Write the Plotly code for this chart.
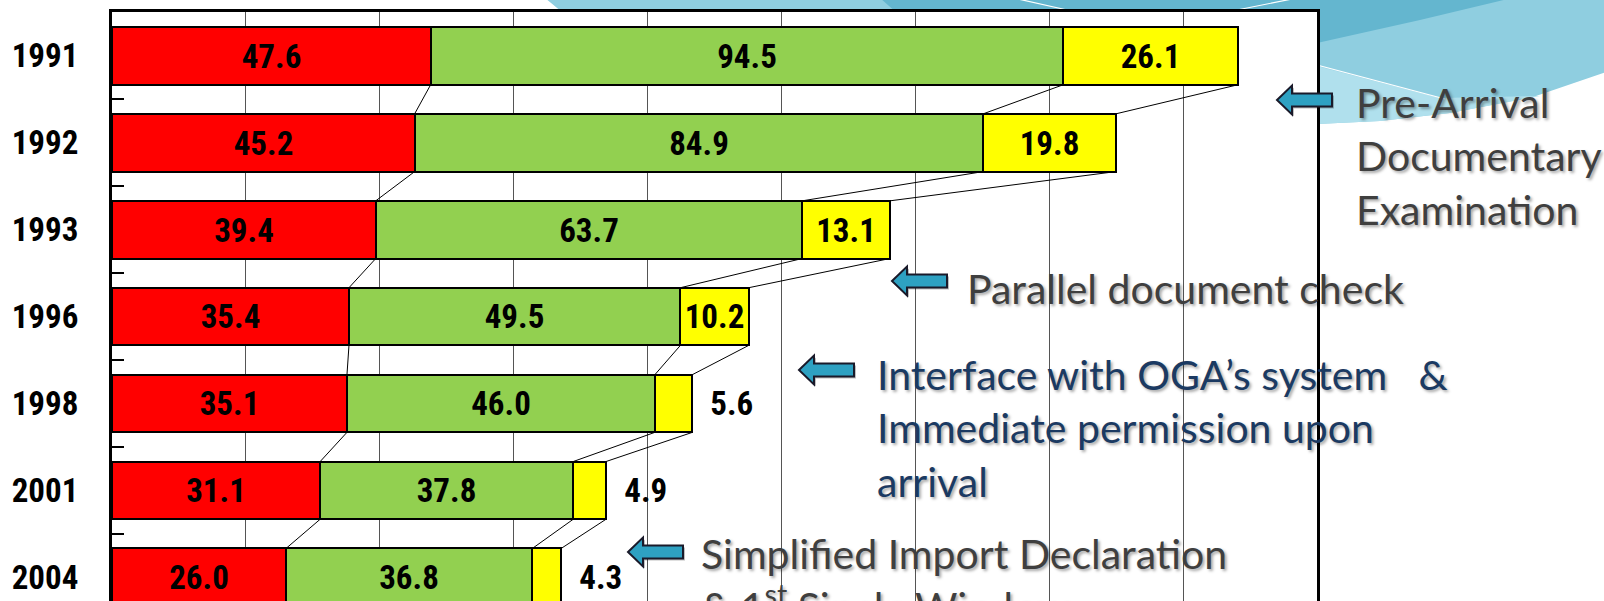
import plotly.graph_objects as go

# ---------------- data ----------------
years = ["1991", "1992", "1993", "1996", "1998", "2001", "2004"]
red_vals = [47.6, 45.2, 39.4, 35.4, 35.1, 31.1, 26.0]
green_vals = [94.5, 84.9, 63.7, 49.5, 46.0, 37.8, 36.8]
yellow_vals = [26.1, 19.8, 13.1, 10.2, 5.6, 4.9, 4.3]
yellow_pos = ["inside", "inside", "inside", "inside", "outside", "outside", "outside"]
x_ticks = [0, 20, 40, 60, 80, 100, 120, 140, 160, 180]

NARROW = "Liberation Sans Narrow, Arial Narrow, Roboto Condensed, DejaVu Sans Condensed, sans-serif"
CAL = "Lato, Carlito, Calibri, Open Sans, sans-serif"
BAR_W = 0.664

ypos = list(range(len(years)))

# figure geometry (pixels) used for decorative paper-referenced shapes
W, H = 1604, 601
ML, MR, MT, MB = 112, 287, 12, 0
PW, PH = W - ML - MR, H - MT - MB


def X(px):
    return (px - ML) / PW


def Y(py):
    return (H - MB - py) / PH


def poly(pts):
    s = "M " + " L ".join(f"{X(a):.5f},{Y(b):.5f}" for a, b in pts) + " Z"
    return s


fig = go.Figure()

# connector lines between consecutive bars (cumulative segment ends)
cum = []
run = [0.0] * len(years)
for series in (red_vals, green_vals, yellow_vals):
    run = [r + v for r, v in zip(run, series)]
    cum.append(run)
lx, ly = [], []
for c in cum:
    for i in range(len(years) - 1):
        lx += [c[i], c[i + 1], None]
        ly += [ypos[i] + BAR_W / 2, ypos[i + 1] - BAR_W / 2, None]
fig.add_trace(go.Scatter(x=lx, y=ly, mode="lines", line=dict(color="black", width=1),
                         hoverinfo="skip", showlegend=False))

LFS = 33
label_font = dict(family=NARROW, size=LFS, color="black", weight="bold")


def fmt(v):
    return f"{v:.1f}"


fig.add_trace(go.Bar(y=ypos, x=red_vals, orientation="h", width=BAR_W,
                     marker=dict(color="#FF0000", line=dict(color="black", width=2)),
                     text=[fmt(v) for v in red_vals], textposition="inside",
                     insidetextanchor="middle", textfont=label_font,
                     constraintext="none", showlegend=False, hoverinfo="skip"))
fig.add_trace(go.Bar(y=ypos, x=green_vals, orientation="h", width=BAR_W,
                     marker=dict(color="#92D050", line=dict(color="black", width=2)),
                     text=[fmt(v) for v in green_vals], textposition="inside",
                     insidetextanchor="middle", textfont=label_font,
                     constraintext="none", showlegend=False, hoverinfo="skip"))
fig.add_trace(go.Bar(y=ypos, x=yellow_vals, orientation="h", width=BAR_W,
                     marker=dict(color="#FFFF00", line=dict(color="black", width=2)),
                     text=[("\u00a0\u00a0" + fmt(v)) if p == "outside" else fmt(v)
                           for v, p in zip(yellow_vals, yellow_pos)],
                     textposition=yellow_pos, insidetextanchor="middle",
                     textfont=label_font, outsidetextfont=label_font,
                     constraintext="none", cliponaxis=False,
                     showlegend=False, hoverinfo="skip"))

# ---------------- decorative background wave (top right) ----------------
dark = "#64B6CF"
light = "#8FCEE0"
pale = "#B0E0ED"
shapes = []
# light band (above plot + right of plot)
shapes.append(dict(type="path", xref="paper", yref="paper", layer="below",
                   path=poly([(545, -2), (1606, -2), (1606, 72), (1533, 97), (1450, 113),
                              (1380, 121), (1317, 124), (1317, 60), (620, 60)]),
                   fillcolor=light, line=dict(width=0)))
# pale strip under white line
shapes.append(dict(type="path", xref="paper", yref="paper", layer="below",
                   path=poly([(1317, 66), (1440, 98), (1540, 96), (1450, 113),
                              (1380, 121), (1317, 124)]),
                   fillcolor=pale, line=dict(width=0)))
# dark band
shapes.append(dict(type="path", xref="paper", yref="paper", layer="below",
                   path=poly([(880, -2), (1512, -2), (1420, 20), (1317, 43), (1317, 60), (950, 60)]),
                   fillcolor=dark, line=dict(width=0)))
# white highlight lines
for a, b in (((1018, -1), (1085, 14)), ((1237, 10), (1292, -1)), ((1317, 65), (1445, 99))):
    shapes.append(dict(type="line", xref="paper", yref="paper", layer="below",
                       x0=X(a[0]), y0=Y(a[1]), x1=X(b[0]), y1=Y(b[1]),
                       line=dict(color="white", width=1.2)))
# white plot area on top of the wave
shapes.append(dict(type="rect", xref="paper", yref="paper", layer="below",
                   x0=0, y0=0, x1=1, y1=1, fillcolor="white", line=dict(width=0)))


# block arrows pointing left
def arrow(tx, ty):
    return poly([(tx, ty), (tx + 15, ty - 14.5), (tx + 15, ty - 6.5), (tx + 55, ty - 6.5),
                 (tx + 55, ty + 6.5), (tx + 15, ty + 6.5), (tx + 15, ty + 14.5)])


for tx, ty in ((1277, 100), (892, 281), (799, 370), (628, 552)):
    shapes.append(dict(type="path", xref="paper", yref="paper", layer="above",
                       path=arrow(tx + 2, ty + 2), fillcolor="rgba(0,0,0,0.25)",
                       line=dict(width=0)))
    shapes.append(dict(type="path", xref="paper", yref="paper", layer="above",
                       path=arrow(tx, ty), fillcolor="#2EA1C2",
                       line=dict(color="#1A1A2A", width=2)))

# ---------------- annotation texts ----------------
shadow = "2px 2px 3px rgba(0,0,0,0.35)"
gray = "#3F3F3F"
navy = "#1B3A62"
FS = 41
ann = []
ann.append(dict(text="Pre-Arrival<br>Documentary<br>Examination", x=X(1354), y=Y(156),
                font=dict(family=CAL, size=FS, color=gray, shadow=shadow)))
ann.append(dict(text="Parallel document check", x=X(965), y=Y(288),
                font=dict(family=CAL, size=FS, color=gray, shadow=shadow)))
ann.append(dict(text="Interface with OGA\u2019s system\u00a0\u00a0\u00a0&<br>Immediate permission upon<br>arrival",
                x=X(875), y=Y(428),
                font=dict(family=CAL, size=FS, color=navy, shadow=shadow)))
ann.append(dict(text="Simplified Import Declaration<br>& 1<sup>st</sup> Single Window",
                x=X(699), y=Y(580),
                font=dict(family=CAL, size=FS, color=gray, shadow=shadow)))
for a in ann:
    a.update(xref="paper", yref="paper", xanchor="left", yanchor="middle",
             showarrow=False, align="left")

fig.update_layout(
    width=W, height=H,
    margin=dict(l=ML, r=MR, t=MT, b=MB, pad=0, autoexpand=False),
    paper_bgcolor="white", plot_bgcolor="white",
    barmode="stack", bargap=0,
    shapes=shapes, annotations=ann,
    xaxis=dict(range=[x_ticks[0], x_ticks[-1]], tickvals=x_ticks, showticklabels=False,
               ticks="", showgrid=True, gridcolor="#555555", gridwidth=1,
               zeroline=False, side="top", showline=True, linecolor="black",
               linewidth=3, mirror=False, fixedrange=True, automargin=False),
    yaxis=dict(range=[6.273, -0.505], tickvals=ypos, ticktext=years, ticks="",
               showgrid=False, zeroline=False, showline=True, mirror=True,
               linecolor="black", linewidth=3, automargin=False,
               tickfont=dict(family=NARROW, size=LFS, color="black", weight="bold"),
               ticklabelstandoff=24,
               minor=dict(tickvals=[i + 0.5 for i in ypos[:-1]], ticks="inside",
                          ticklen=12, tickwidth=1.5, tickcolor="black", showgrid=False),
               fixedrange=True),
    showlegend=False,
)

fig.write_html("out.html", config={"displayModeBar": False},
               post_script="document.body.style.margin='0';document.body.style.overflow='hidden';")
